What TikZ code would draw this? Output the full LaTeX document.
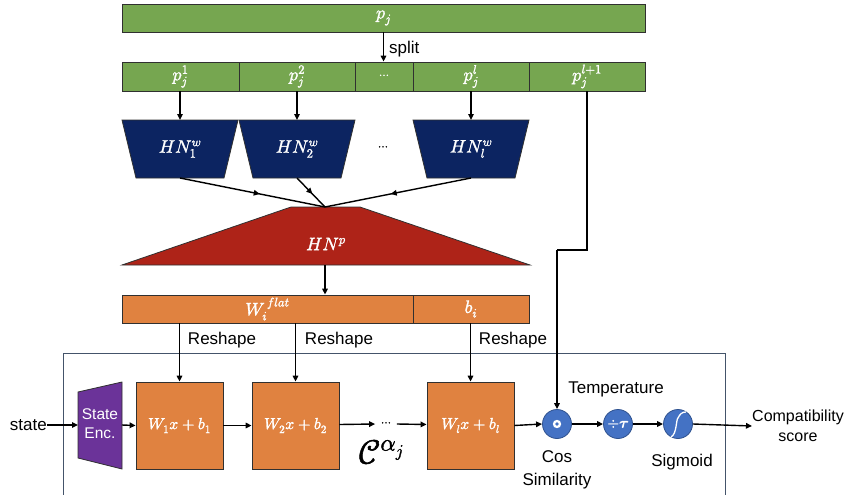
\documentclass[tikz,border=0pt]{standalone}
\usepackage{amsmath}
\usepackage{fontspec}
\usepackage{unicode-math}
\setmainfont{Liberation Sans}
\setmathfont{Latin Modern Math}[FakeBold=1.6]
\usetikzlibrary{arrows.meta,decorations.markings,calc}
\definecolor{cgreen}{HTML}{76A650}
\definecolor{cnavy}{HTML}{0C2461}
\definecolor{cred}{HTML}{AE2318}
\definecolor{corange}{HTML}{E08240}
\definecolor{cpurple}{HTML}{6B3399}
\definecolor{cblue}{HTML}{4472C4}
\definecolor{cblueedge}{HTML}{2F528F}
\definecolor{cframe}{HTML}{44546A}
\definecolor{cedge}{HTML}{303030}
\tikzset{
  arr/.style={line width=1.4pt,-{Triangle[length=6pt,width=5.5pt]}},
  plainline/.style={line width=1.4pt},
  midarr/.style={line width=1.4pt,postaction={decorate},
    decoration={markings,mark=at position 0.55 with {\arrow{Triangle[length=6pt,width=5.5pt]}}}},
  greencell/.style={draw=cedge,line width=0.8pt,fill=cgreen,text=white,inner sep=0pt,
    minimum height=29pt,font=\fontsize{18}{20}\selectfont},
  orangecell/.style={draw=cedge,line width=0.8pt,fill=corange,text=white,inner sep=0pt,
    minimum height=28pt,font=\fontsize{18}{20}\selectfont},
  wbox/.style={draw=cedge,line width=0.8pt,fill=corange,text=white,inner sep=0pt,
    minimum width=87pt,minimum height=87pt,font=\fontsize{16}{18}\selectfont},
  circ/.style={circle,draw=cblueedge,line width=0.8pt,fill=cblue,minimum size=29pt,inner sep=0pt,
    text=white,font=\fontsize{15}{17}\selectfont},
  shapeedge/.style={draw=cedge,line width=0.8pt},
  mtext/.style={text=white,font=\fontsize{18}{20}\selectfont,inner sep=0pt},
  lbl/.style={font=\fontsize{17}{19}\selectfont,inner sep=0pt,text=black},
}
\begin{document}
\begin{tikzpicture}[x=1pt,y=-1pt]
\useasboundingbox (0,0) rectangle (846,495);

% top bar
\node[greencell,minimum width=523pt,minimum height=28pt] (pj) at (383.5,18) {$p_j$};
% split cells
\node[greencell,minimum width=117pt] (p1) at (180.5,76.5) {$p_j^1$};
\node[greencell,minimum width=116pt] (p2) at (297,76.5) {$p_j^2$};
\node[greencell,minimum width=58pt,font=\fontsize{12}{14}\selectfont] (pd) at (384,76.5) {$\cdots$};
\node[greencell,minimum width=116pt] (pl) at (471,76.5) {$p_j^l$};
\node[greencell,minimum width=116pt] (pl1) at (587,76.5) {$p_j^{l+1}$};
\draw[arr] (pj.south) -- (pj.south |- pd.north);
\node[lbl,anchor=west] (split) at (389,49) {split};

% HN^w boxes
\foreach \n/\cx in {1/180,2/297,l/471}{
  \fill[cnavy] (\cx-58,120) -- (\cx+58,120) -- (\cx+44,178) -- (\cx-44,178) -- cycle;
  \draw[shapeedge] (\cx-58,120) -- (\cx+58,120) -- (\cx+44,178) -- (\cx-44,178) -- cycle;
  \coordinate (hn\n t) at (\cx,120);
  \coordinate (hn\n b) at (\cx,178);
}
\node[mtext] (hn1) at (180,149) {$HN_1^w$};
\node[mtext] (hn2) at (297,149) {$HN_2^w$};
\node[mtext] (hnl) at (471,149) {$HN_l^w$};
\node[lbl,font=\fontsize{12}{14}\selectfont] (hdots) at (383,148) {$\cdots$};
\draw[arr] (hn1t |- p1.south) -- (hn1t);
\draw[arr] (hn2t |- p2.south) -- (hn2t);
\draw[arr] (hnlt |- pl.south) -- (hnlt);

% HN^p
\fill[cred] (291,207) -- (360,207) -- (530,265) -- (122,265) -- cycle;
\draw[shapeedge] (291,207) -- (360,207) -- (530,265) -- (122,265) -- cycle;
\coordinate (hnpt) at (325,207);
\coordinate (hnpb) at (325,265);
\node[mtext] (hnp) at (326,244) {$HN^p$};
\draw[midarr] (hn1b) -- (hnpt);
\draw[midarr] (hn2b) -- (hnpt);
\draw[midarr] (hnlb) -- (hnpt);

% orange bar
\node[orangecell,minimum width=291pt] (wf) at (267.5,309) {$W_i^{\,flat}$};
\node[orangecell,minimum width=116pt] (bi) at (471,309) {$b_i$};
\draw[arr] (hnpb) -- (hnpb |- wf.north);

% container
\draw[cframe,line width=0.8pt] (63,500) -- (63,353) -- (725,353) -- (725,500);

% state encoder
\fill[cpurple] (78,392) -- (122,382) -- (122,469) -- (78,458) -- cycle;
\draw[shapeedge] (78,392) -- (122,382) -- (122,469) -- (78,458) -- cycle;
\coordinate (encl) at (78,425);
\coordinate (encr) at (122,425);
\node[text=white,font=\fontsize{15.5}{19}\selectfont,align=center,inner sep=0pt] (enc) at (100,424) {State\\Enc.};
\node[lbl,anchor=east] (state) at (47,425) {state};
\draw[arr] (state.east) -- (encl);

% linear layers
\node[wbox] (w1) at (179.5,425.5) {$W_1x+b_1$};
\node[wbox] (w2) at (295.5,425.5) {$W_2x+b_2$};
\node[wbox] (wl) at (470.5,425.5) {$W_lx+b_l$};
\node[inner sep=0pt,font=\fontsize{12}{14}\selectfont] (ldots) at (386,424) {$\cdots$};
\draw[arr] (w1.east) -- (w2.west);
\draw[arr] (encr) -- (w1.west);
\draw[arr] ($(w2.east)+(0,-1)$) -- ($(ldots.west)+(-6,0)$);
\draw[arr] ($(ldots.east)+(6,0)$) -- ($(wl.west)+(0,-1)$);
\node[inner sep=0pt,font=\fontsize{34}{36}\selectfont] (calpha) at (381,452) {$\mathcal{C}^{\alpha_j}$};

% reshape connectors
\draw[arr] (w1.north |- wf.south) -- (w1.north);
\draw[arr] (w2.north |- wf.south) -- (w2.north);
\draw[arr] (wl.north |- bi.south) -- (wl.north);
\node[lbl] (r1) at (222,340) {Reshape};
\node[lbl] (r2) at (339,340) {Reshape};
\node[lbl] (r3) at (513,340) {Reshape};

% output circles
\node[circ] (cos) at (557,424) {};
\fill[white] (cos.center) circle (4.2pt);
\fill[cblue] (cos.center) circle (1.8pt);
\node[circ] (tau) at (618,424) {$\div\symbfit{\tau}$};
\node[circ] (sig) at (678,424) {};
\draw[white,line width=1.3pt,shift={(sig.center)}] (-7,13) .. controls (-1,10) and (-2,-5) .. (0,-6) .. controls (2,-10) and (4,-12) .. (8,-12);
\draw[arr] (wl.east) -- (cos.west);
\draw[arr] (cos.east) -- (tau.west);
\draw[arr] (tau.east) -- (sig.west);
\node[font=\fontsize{16}{20}\selectfont,align=center,inner sep=0pt] (out) at (798,426) {Compatibility\\score};
\draw[arr] (sig.east) -- (out.west);
\node[lbl] (temp) at (616,389) {Temperature};
\node[lbl,align=center,font=\fontsize{17}{23}\selectfont] (coslbl) at (557,470) {Cos\\Similarity};
\node[lbl] (siglbl) at (682,462) {Sigmoid};

% p_j^{l+1} path to cos similarity
\coordinate (jog1) at (587,250);
\coordinate (jog2) at (557,250);
\draw[plainline] (pl1.south) -- (jog1) -- (jog2);
\draw[arr] (jog2) -- (cos.north);
\end{tikzpicture}
\end{document}
